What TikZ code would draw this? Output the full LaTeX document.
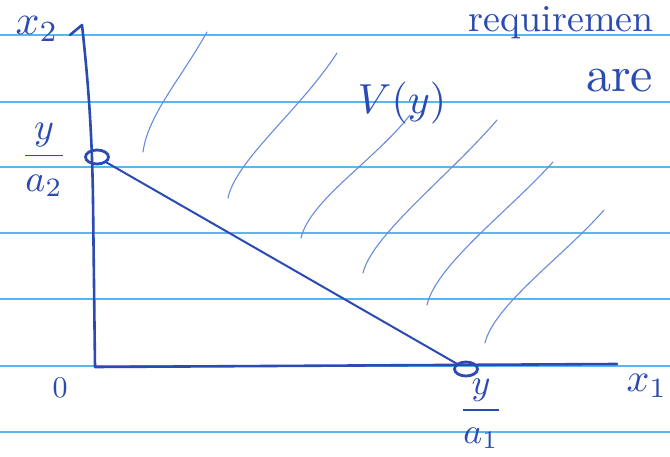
\documentclass[tikz,border=0pt]{standalone}
\usetikzlibrary{shapes.geometric}
\definecolor{ink}{HTML}{2B4BB2}
\definecolor{hatch}{HTML}{6A8BDB}
\definecolor{rule}{HTML}{5AB6EE}
\tikzset{
  ruleline/.style={rule, line width=2.2pt},
  pen/.style={ink, line width=2.6pt, line cap=round, line join=round},
  hatchline/.style={hatch, line width=1.1pt, line cap=round},
  lbl/.style={ink, inner sep=0pt},
  dot/.style={draw=ink, ellipse, line width=2.8pt, minimum width=23pt, minimum height=14pt, inner sep=0pt}
}
\begin{document}
\begin{tikzpicture}[x=1pt,y=-1pt]
\useasboundingbox (0,0) rectangle (670,457);
\clip (0,0) rectangle (670,457);
\fill[white] (0,0) rectangle (670,457);
% ruled paper
\foreach \yy in {35,102,167,233,299,366,432}
  \draw[ruleline] (0,\yy) -- (670,\yy);
% hatching of V(y)
\draw[hatchline] (143,152) .. controls (148,115) and (180,80) .. (207,32);
\draw[hatchline] (228,198) .. controls (236,160) and (300,110) .. (337,53);
\draw[hatchline] (301,238) .. controls (310,200) and (375,160) .. (410,115);
\draw[hatchline] (363,273) .. controls (372,235) and (450,175) .. (497,120);
\draw[hatchline] (427,305) .. controls (436,265) and (510,210) .. (553,162);
\draw[hatchline] (485,343) .. controls (494,305) and (565,255) .. (604,210);
% axes
\coordinate (hook) at (70,35);
\coordinate (ytop) at (82,25);
\coordinate (ymid) at (93,200);
\coordinate (O) at (95,367);
\coordinate (xend) at (617,364);
\draw[pen] (hook) -- (ytop) .. controls (88,80) and (92,130) .. (ymid) -- (O) -- (xend);
% intercept points
\node[dot] (p2) at (97,157) {};
\node[dot] (p1) at (466,369) {};
\draw[pen, line width=2pt] (p2) -- (p1);
% labels
\node[lbl, scale=4.2] (lx2) at (37,29) {$x_2$};
\node[lbl, scale=4.0] (lx1) at (647,386) {$x_1$};
\node[lbl, scale=3.0] (l0) at (60,388) {$0$};
\node[lbl, scale=3.8] (lya2) at (44,160) {$\displaystyle\frac{y}{a_2}$};
\node[lbl, scale=3.6] (lya1) at (481,414) {$\displaystyle\frac{y}{a_1}$};
\node[lbl, scale=4.2] (lv) at (402,103) {$V(y)$};
\node[lbl, anchor=base west, scale=3.8] (lreq) at (468,32) {requiremen};
\node[lbl, anchor=base west, scale=5.0] (lare) at (585,92) {are};
\end{tikzpicture}
\end{document}
